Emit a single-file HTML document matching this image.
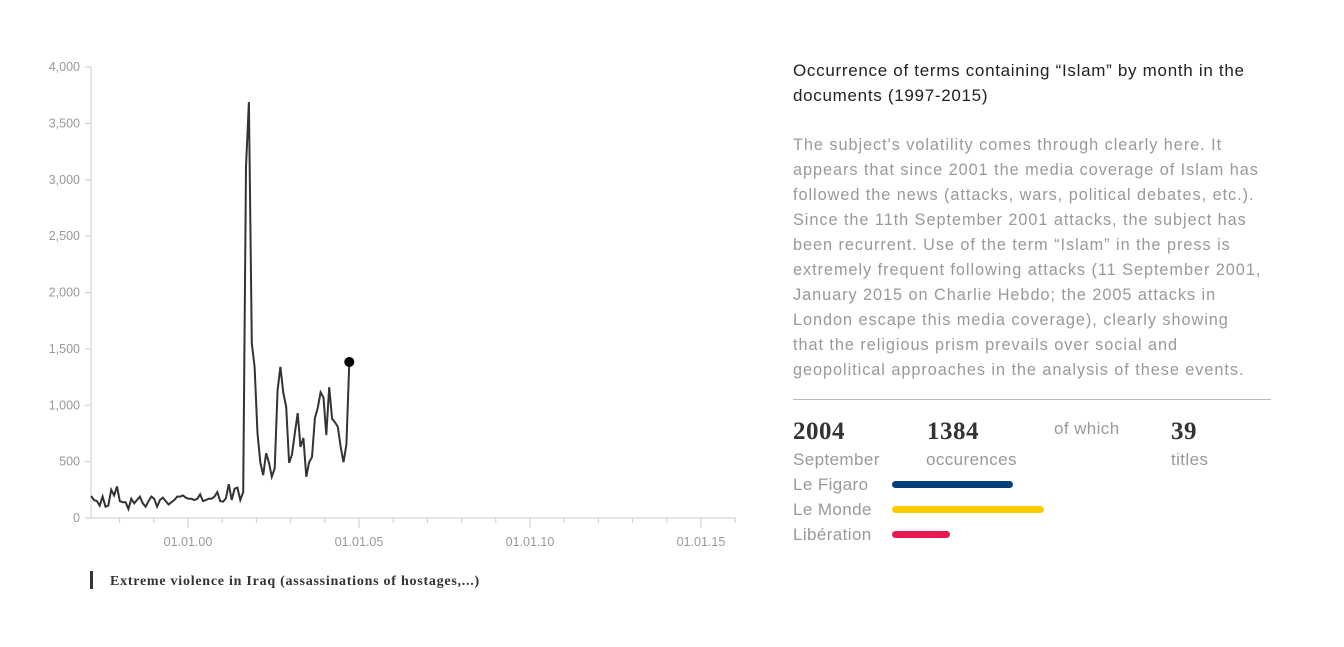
<!DOCTYPE html>
<html><head><meta charset="utf-8"><style>
body{margin:0;background:#fff;width:1344px;height:647px;overflow:hidden;position:relative;font-family:"Liberation Sans",sans-serif}
.abs{position:absolute}
.title{left:793px;top:58px;font-size:17px;line-height:25px;color:#222;letter-spacing:0.7px;white-space:nowrap}
.desc{left:793px;top:133px;font-size:16.3px;line-height:25px;color:#999;letter-spacing:0.95px;white-space:nowrap}
.big{font-family:"Liberation Serif",serif;font-weight:bold;font-size:25px;color:#333;letter-spacing:0.5px}
.lbl{font-size:17px;color:#999;letter-spacing:0.4px}
.bar{position:absolute;height:7px;border-radius:4px;left:892px}
</style></head><body>
<svg class="abs" style="left:0;top:0" width="760" height="647">
<g id="axes"></g><path id="line" fill="none" stroke="#333" stroke-width="2"></path>
<circle id="dot" r="5" fill="#000"></circle>
<rect x="90" y="571" width="3" height="18" fill="#333"></rect>
<text x="110" y="585" font-family="Liberation Serif, serif" font-weight="bold" font-size="14" fill="#333" letter-spacing="0.75">Extreme violence in Iraq (assassinations of hostages,...)</text>
</svg>
<div class="abs title">Occurrence of terms containing “Islam” by month in the<br>documents (1997-2015)</div>
<div class="abs desc">The subject's volatility comes through clearly here. It<br>appears that since 2001 the media coverage of Islam has<br>followed the news (attacks, wars, political debates, etc.).<br>Since the 11th September 2001 attacks, the subject has<br>been recurrent. Use of the term “Islam” in the press is<br>extremely frequent following attacks (11 September 2001,<br>January 2015 on Charlie Hebdo; the 2005 attacks in<br>London escape this media coverage), clearly showing<br>that the religious prism prevails over social and<br>geopolitical approaches in the analysis of these events.</div>
<div class="abs" style="left:793px;top:399px;width:478px;height:1px;background:#bbb"></div>
<div class="abs big" style="left:793px;top:418px">2004</div>
<div class="abs lbl" style="left:793px;top:450px">September</div>
<div class="abs big" style="left:927px;top:418px">1384</div>
<div class="abs lbl" style="left:926px;top:450px">occurences</div>
<div class="abs lbl" style="left:1054px;top:419px">of which</div>
<div class="abs big" style="left:1171px;top:418px">39</div>
<div class="abs lbl" style="left:1171px;top:450px">titles</div>
<div class="abs lbl" style="left:793px;top:475px">Le Figaro</div>
<div class="abs lbl" style="left:793px;top:500px">Le Monde</div>
<div class="abs lbl" style="left:793px;top:525px">Libération</div>
<div id="bars"></div>
<script>
const yTicks=[0,500,1000,1500,2000,2500,3000,3500,4000];
const xTickLabels=["01.01.00","01.01.05","01.01.10","01.01.15"];
const xTickYears=[2000,2005,2010,2015];
const startYear=1997, startMonth=2; // March 1997
const values=[195,160,150,110,190,100,110,250,200,280,150,140,140,80,170,130,160,190,130,100,150,190,170,100,160,180,150,120,140,160,190,190,200,180,170,170,160,170,210,150,160,170,170,190,230,150,145,175,300,160,260,270,160,230,
3115,3690,1550,1340,750,490,380,575,490,365,440,1135,1340,1110,985,490,560,750,930,630,710,365,495,540,885,975,1115,1070,735,1160,880,850,810,630,495,650,1384];
const papers=["Le Figaro","Le Monde","Libération"];
const paperValues=[480,605,230];
const paperColors=["#003f7d","#ffcc00","#e8194f"];
const X=t=>188+(t-2000)*34.2, Y=v=>518-v*(451/4000);
const XL=t=>X(t)+(t-1997)*0.22;
const ns="http://www.w3.org/2000/svg",ax=document.getElementById('axes');
function mk(tag,a){const e=document.createElementNS(ns,tag);for(const k in a)e.setAttribute(k,a[k]);ax.appendChild(e);return e;}
const l1=mk('line',{x1:91,y1:67,x2:91,y2:518,stroke:'#ccc'});


const l2=mk('line',{x1:91,y1:518,x2:736,y2:518,stroke:'#ccc'});


yTicks.forEach(v=>{mk('line',{x1:85,x2:91,y1:Y(v),y2:Y(v),stroke:'#ccc'});
const t=mk('text',{x:80,y:Y(v)+4,'text-anchor':'end','font-size':12.5,fill:'#999','font-family':'Liberation Sans, sans-serif'});t.textContent=v.toLocaleString('en-US');

});
for(let yr=1998;yr<=2016;yr++){const x=X(yr);if(x>736)break;mk('line',{x1:x,x2:x,y1:518,y2:yr%5==0?528:523,stroke:'#ccc'});}
xTickYears.forEach((yr,i)=>{const t=mk('text',{x:X(yr),y:546,'text-anchor':'middle','font-size':12.5,fill:'#999','font-family':'Liberation Sans, sans-serif'});t.textContent=xTickLabels[i];

});
let d='';values.forEach((v,i)=>{const t=startYear+(startMonth+i)/12;d+=(i?'L':'M')+XL(t).toFixed(1)+','+Y(v).toFixed(1);});
document.getElementById('line').setAttribute('d',d);
const li=values.length-1,dot=document.getElementById('dot');
dot.setAttribute('cx',XL(startYear+(startMonth+li)/12));dot.setAttribute('cy',Y(values[li]));
const bars=document.getElementById('bars');
papers.forEach((p,i)=>{const b=document.createElement('div');b.className='bar';
b.style.top=(481+i*25)+'px';b.style.width=(paperValues[i]*0.252)+'px';b.style.background=paperColors[i];


bars.appendChild(b);});
</script>
</body></html>
